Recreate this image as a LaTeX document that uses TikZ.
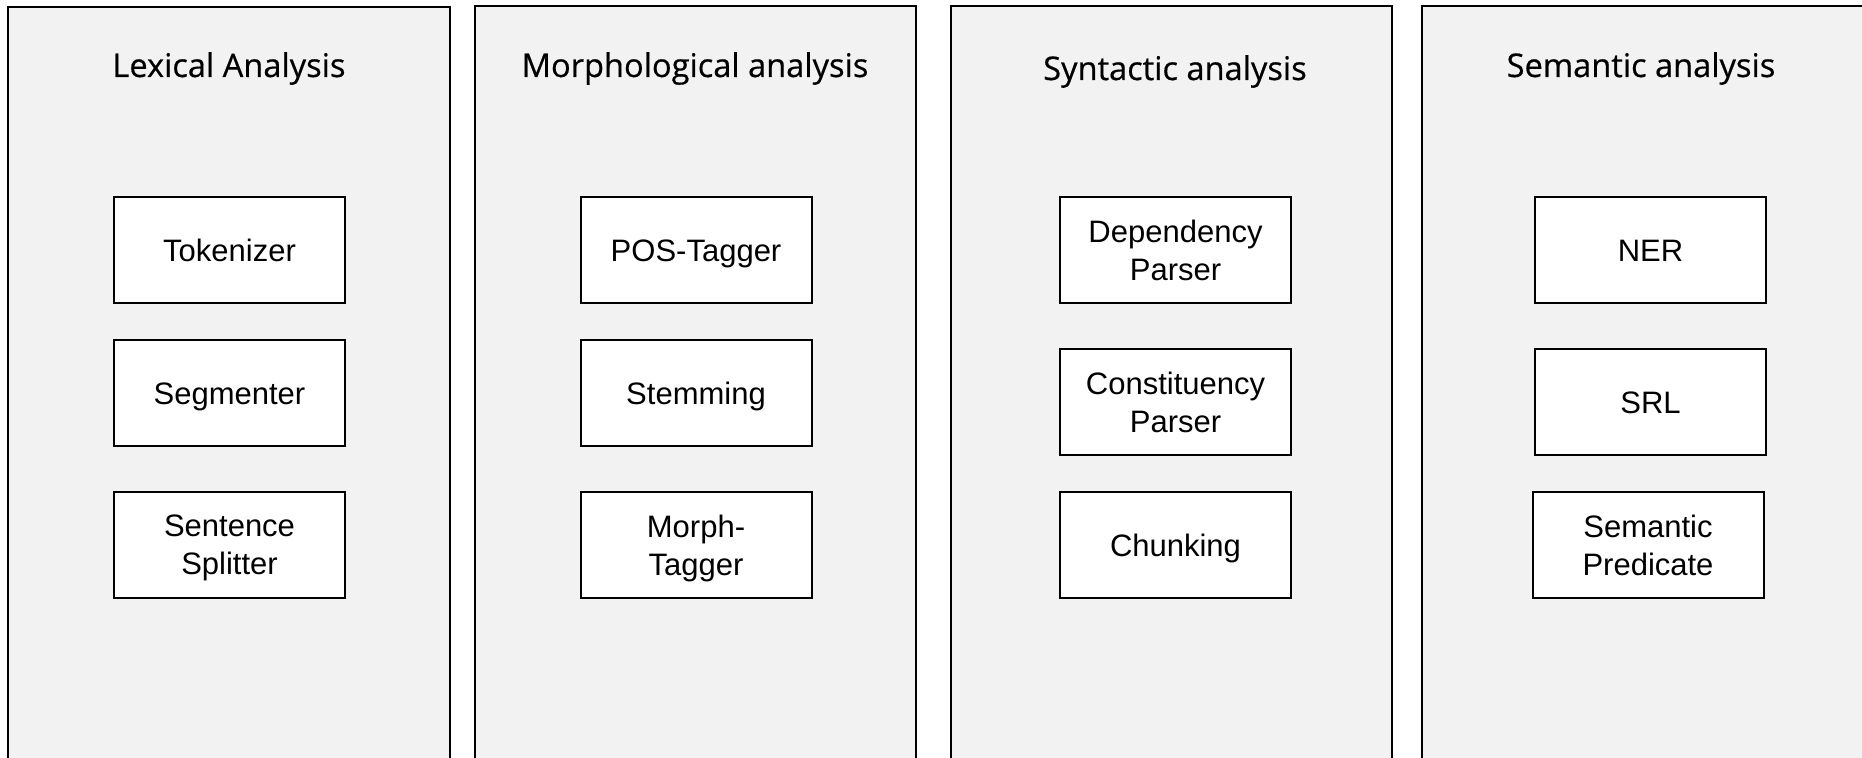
\documentclass[tikz,border=0pt]{standalone}
\usepackage{fontspec}
\setmainfont{Liberation Sans}
\newfontfamily\titlefont[FakeBold=0.5]{Open Sans}
\begin{document}
\begin{tikzpicture}[x=0.5pt,y=-0.5pt,
  panel/.style={draw=black,line width=0.8pt,fill=panelgray},
  tool/.style={draw=black,line width=1pt,fill=white,minimum width=115.5pt,minimum height=53pt,inner sep=0pt,align=center,text depth=0pt,font=\fontsize{15.5}{19}\selectfont},
  one/.style={tool,text height=11.1pt},
  ptitle/.style={anchor=base,inner sep=0pt,font=\titlefont\fontsize{16.3}{20}\selectfont}]
\definecolor{panelgray}{HTML}{F2F2F2}
\useasboundingbox (0,0) rectangle (1862,758);
\clip (0,0) rectangle (1862,758);
\fill[white] (0,0) rectangle (1862,758);
% panels
\draw[panel] (8,7) rectangle (450,775);
\draw[panel] (475,6) rectangle (916,775);
\draw[panel] (951,6) rectangle (1392,775);
\draw[panel] (1422,6) rectangle (1870,775);
% titles
\node[ptitle] (t1) at (229,77) {Lexical Analysis};
\node[ptitle] (t2) at (695,77) {Morphological analysis};
\node[ptitle] (t3) at (1175,80) {Syntactic analysis};
\node[ptitle] (t4) at (1641,77) {Semantic analysis};
% lexical
\node[one] (tok) at (229.5,250) {Tokenizer};
\node[one] (seg) at (229.5,393.5) {Segmenter};
\node[tool] (ss) at (229.5,545) {Sentence\\Splitter};
% morphological
\node[one] (pos) at (696,250) {POS-Tagger};
\node[one] (stem) at (696,393.5) {Stemming};
\node[tool] (mt) at (696,545) {Morph-\\Tagger};
% syntactic
\node[tool] (dep) at (1175.5,250) {Dependency\\Parser};
\node[tool] (con) at (1175.5,402.5) {Constituency\\Parser};
\node[one] (chunk) at (1175.5,545) {Chunking};
% semantic
\node[one] (ner) at (1650.5,250) {NER};
\node[one] (srl) at (1650.5,402.5) {SRL};
\node[tool] (sp) at (1648,545) {Semantic\\Predicate};
\end{tikzpicture}
\end{document}
